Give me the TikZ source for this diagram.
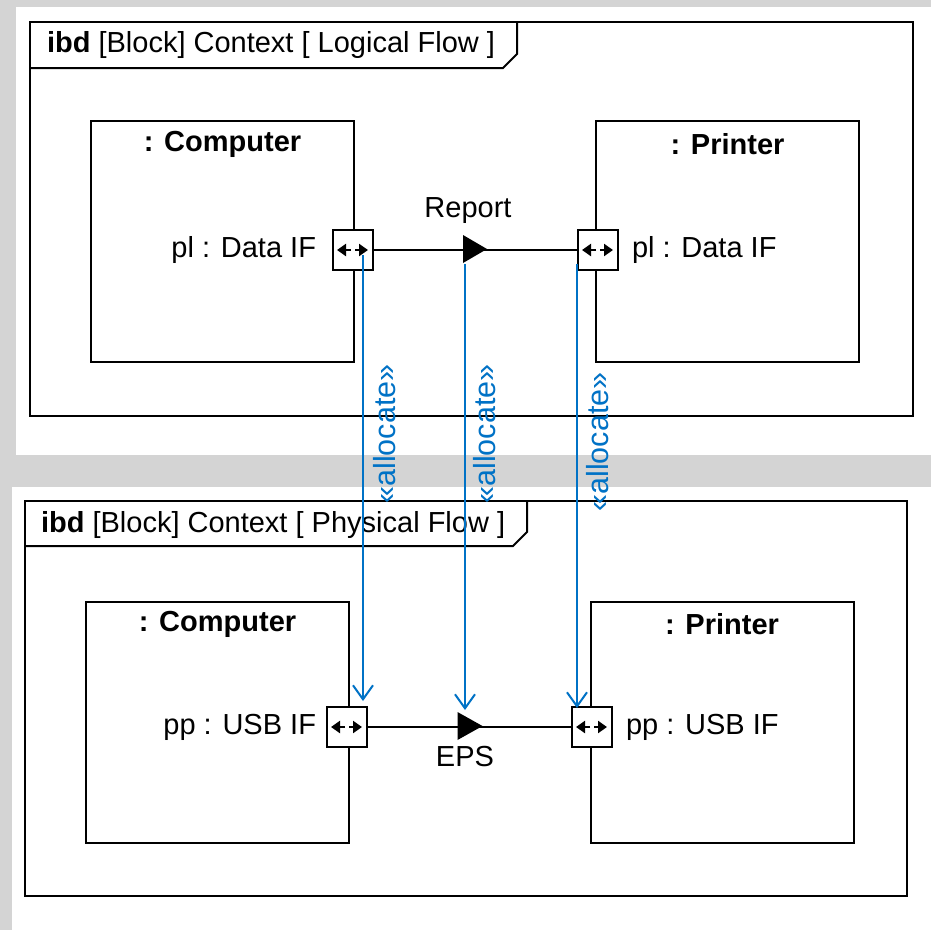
\documentclass[tikz,border=0pt]{standalone}
\usepackage{fontspec}
\setmainfont{Liberation Sans}
\usetikzlibrary{arrows.meta,calc}
\definecolor{bggray}{RGB}{212,212,212}
\definecolor{allocblue}{RGB}{0,114,198}

\begin{document}
\begin{tikzpicture}[x=1pt,y=-1pt,
  every node/.style={font=\fontsize{29}{34}\selectfont, inner sep=0pt, outer sep=0pt},
  frameline/.style={draw=black, line width=2pt},
  blockbox/.style={draw, line width=2pt, fill=white, minimum width=263pt, minimum height=241pt},
  blockname/.style={font=\fontsize{29}{34}\selectfont\bfseries},
  portbox/.style={draw, line width=2pt, fill=white, minimum size=40pt},
  porttip/.style={line width=2.4pt, -{Triangle[width=12pt,length=9pt]}},
  flowline/.style={draw, line width=2pt},
  alloc/.style={draw=allocblue, line width=2pt, -{Straight Barb[length=14pt,width=20pt,line width=2pt]}},
  alloctext/.style={text=allocblue, rotate=90, font=\fontsize{30.5}{34}\selectfont}
]
\useasboundingbox (0,0) rectangle (931,930);

% backdrop and the two white sheets
\fill[bggray] (0,0) rectangle (931,930);
\fill[white] (16,7) rectangle (931,455);
\fill[white] (12,487) rectangle (931,930);

% port glyph: two short outward arrows
\newcommand{\portglyph}[1]{%
  \draw[porttip] ($(#1.center)+(-2,0)$) -- ($(#1.center)+(-16,0)$);
  \draw[porttip] ($(#1.center)+(2,0)$) -- ($(#1.center)+(15,0)$);}

% ---------- logical flow diagram ----------
\draw[frameline] (30,22) rectangle (913,416);
\draw[frameline] (30,68) -- (503,68) -- (517,54) -- (517,22);
\node[anchor=west] (title1) at (47,45) {\textbf{ibd} [Block] Context [ Logical Flow ]};

\node[blockbox] (comp1) at (222.5,241.5) {};
\node[blockbox] (prn1) at (727.5,241.5) {};
\node[blockname] (comp1name) at (222.5,144) {: Computer};
\node[blockname] (prn1name) at (727.5,144) {: Printer};

\node[portbox] (p1) at (353,250) {};
\node[portbox] (p2) at (598,250) {};
\portglyph{p1}
\portglyph{p2}

\node[anchor=east] (p1lbl) at ($(p1.west)+(-17,0)$) {pl : Data IF};
\node[anchor=west] (p2lbl) at ($(p2.east)+(14,0)$) {pl : Data IF};

\draw[flowline] (p1) -- (p2);
\coordinate (m1) at (475,249);
\fill (m1) ++(-12,-14) -- ++(24,14) -- ++(-24,14) -- cycle;
\node (report) at (468,211) {Report};

% ---------- physical flow diagram ----------
\draw[frameline] (25,501) rectangle (907,896);
\draw[frameline] (25,546) -- (513,546) -- (527,532) -- (527,501);
\node[anchor=west] (title2) at (41,525) {\textbf{ibd} [Block] Context [ Physical Flow ]};

\node[blockbox] (comp2) at (217.5,722) {};
\node[blockbox] (prn2) at (722,722) {};
\node[blockname] (comp2name) at (217.5,624) {: Computer};
\node[blockname] (prn2name) at (722,624) {: Printer};

\node[portbox] (q1) at (347,727) {};
\node[portbox] (q2) at (592,727) {};
\portglyph{q1}
\portglyph{q2}

\node[anchor=east] (q1lbl) at ($(q1.west)+(-11,0)$) {pp : USB IF};
\node[anchor=west] (q2lbl) at ($(q2.east)+(14,0)$) {pp : USB IF};

\draw[flowline] (q1) -- (q2);
\coordinate (m2) at (469.5,726);
\fill (m2) ++(-12,-14) -- ++(25,14) -- ++(-25,14) -- cycle;
\node (eps) at (465,757) {EPS};

% ---------- allocations ----------
\coordinate (a1s) at ($(p1.center)+(10,5)$);
\coordinate (a1e) at ($(q1.center)+(16,-26)$);
\coordinate (a2s) at ($(m1)+(-10,15)$);
\coordinate (a2e) at ($(m2)+(-4.5,-16)$);
\coordinate (a3s) at ($(p2.center)+(-21,14)$);
\coordinate (a3e) at ($(q2.center)+(-15,-19)$);

\draw[alloc] (a1s) -- (a1e);
\draw[alloc] (a2s) -- (a2e);
\draw[alloc] (a3s) -- (a3e);

\node[alloctext] (al1) at (385,434) {«allocate»};
\node[alloctext] (al2) at (485,434) {«allocate»};
\node[alloctext] (al3) at (598,442) {«allocate»};
\end{tikzpicture}
\end{document}
